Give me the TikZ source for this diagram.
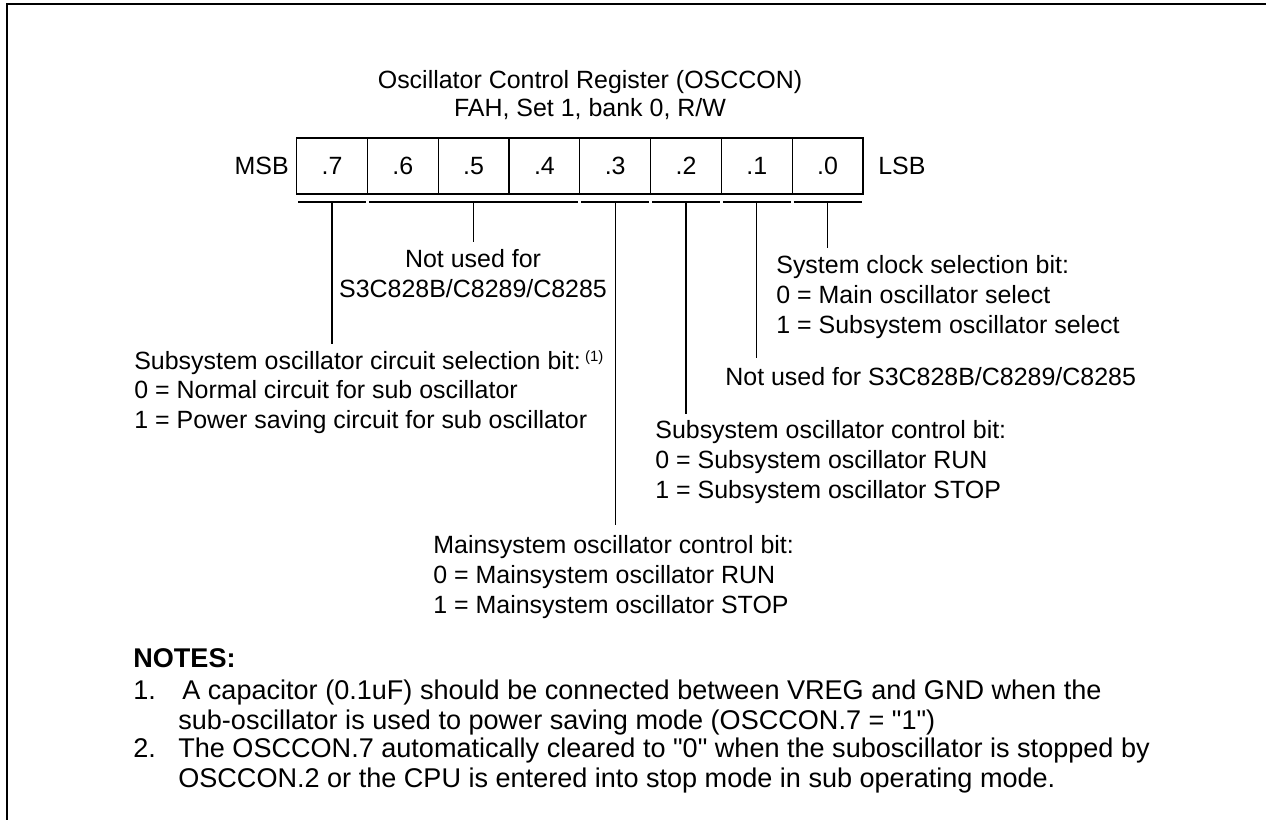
\documentclass[tikz,border=0pt]{standalone}
\usepackage{fontspec}
\setmainfont{Liberation Sans}
\usetikzlibrary{positioning,calc}

\newcommand{\descsize}{\fontsize{14.2}{17}\selectfont}
\newcommand{\notesize}{\fontsize{15.4}{17}\selectfont}

\begin{document}
\begin{tikzpicture}[
  bitcell/.style={draw, line width=0.6pt, minimum width=1.416cm, minimum height=1.12cm, inner sep=0pt, outer sep=0pt, font=\descsize},
  desc/.style={font=\descsize, align=left, anchor=north west, inner sep=0pt},
  notetext/.style={font=\notesize, align=left, anchor=north west, inner sep=0pt},
  lead/.style={line width=0.75pt}
]
  \useasboundingbox (0,0) rectangle (25.32,16.4);
  \draw[line width=1.3pt] (0.14,0) -- (0.14,16.32) -- (25.32,16.32);

  % register title
  \node[font=\fontsize{14.2}{16}\selectfont, align=center, anchor=north, inner sep=0pt] (title) at (11.8,15.0) {Oscillator Control Register (OSCCON)\\FAH, Set 1, bank 0, R/W};

  % register bits
  \node[bitcell] (b7) at (6.64,13.08) {.7};
  \node[bitcell, right=0pt of b7] (b6) {.6};
  \node[bitcell, right=0pt of b6] (b5) {.5};
  \node[bitcell, right=0pt of b5] (b4) {.4};
  \node[bitcell, right=0pt of b4] (b3) {.3};
  \node[bitcell, right=0pt of b3] (b2) {.2};
  \node[bitcell, right=0pt of b2] (b1) {.1};
  \node[bitcell, right=0pt of b1] (b0) {.0};
  \node[font=\descsize, inner sep=0pt, left=0.15cm of b7] (msb) {MSB};
  \node[font=\descsize, inner sep=0pt, right=0.3cm of b0] (lsb) {LSB};

  % bit groups
  \coordinate (ul) at (0,12.36);
  \draw[line width=0.6pt] ($(b7.west |- ul)+(0.03,0)$) -- ($(b7.east |- ul)+(-0.03,0)$);
  \draw[line width=0.6pt] ($(b6.west |- ul)+(0.03,0)$) -- ($(b4.east |- ul)+(-0.03,0)$);
  \draw[line width=0.6pt] ($(b3.west |- ul)+(0.03,0)$) -- ($(b3.east |- ul)+(-0.03,0)$);
  \draw[line width=0.6pt] ($(b2.west |- ul)+(0.03,0)$) -- ($(b2.east |- ul)+(-0.03,0)$);
  \draw[line width=0.6pt] ($(b1.west |- ul)+(0.03,0)$) -- ($(b1.east |- ul)+(-0.03,0)$);
  \draw[line width=0.6pt] ($(b0.west |- ul)+(0.03,0)$) -- ($(b0.east |- ul)+(-0.03,0)$);

  % bit descriptions
  \node[desc] (d7) at (2.68,9.4) {Subsystem oscillator circuit selection bit:\,\raisebox{0.6ex}{\fontsize{8.5}{8.5}\selectfont(1)}\\0 = Normal circuit for sub oscillator\\1 = Power saving circuit for sub oscillator};
  \node[desc, anchor=north, align=center] (d5) at (9.46,11.42) {Not used for\\S3C828B/C8289/C8285};
  \node[desc] (d0) at (15.52,11.3) {System clock selection bit:\\0 = Main oscillator select\\1 = Subsystem oscillator select};
  \node[desc] (d1) at (14.5,9.06) {Not used for S3C828B/C8289/C8285};
  \node[desc] (d2) at (13.1,8.0) {Subsystem oscillator control bit:\\0 = Subsystem oscillator RUN\\1 = Subsystem oscillator STOP};
  \node[desc] (d3) at (8.66,5.7) {Mainsystem oscillator control bit:\\0 = Mainsystem oscillator RUN\\1 = Mainsystem oscillator STOP};

  \draw[lead] (b7 |- ul) -- ($(b7 |- d7.north)+(0,0.12)$);
  \draw[lead] (b5 |- ul) -- ($(b5 |- d5.north)+(0,0.14)$);
  \draw[lead] (b3 |- ul) -- ($(b3 |- d3.north)+(0,0.2)$);
  \draw[lead] (b2 |- ul) -- ($(b2 |- d2.north)+(0,0.12)$);
  \draw[lead] (b1 |- ul) -- ($(b1 |- d1.north)+(0,0.18)$);
  \draw[lead] (b0 |- ul) -- ($(b0 |- d0.north)+(0,0.14)$);

  % notes
  \node[font=\notesize\bfseries, anchor=base west, inner sep=0pt] (notes) at (2.66,3.04) {NOTES:};
  \node[notetext] (n1) at (2.66,2.84) {\strut 1.};
  \node[notetext] (t1) at (3.56,2.84) {\strut\hspace{0.15em}A capacitor (0.1uF) should be connected between VREG and GND when the\\sub-oscillator is used to power saving mode (OSCCON.7 = \textquotedbl 1\textquotedbl)};
  \node[notetext] (n2) at (2.66,1.68) {\strut 2.};
  \node[notetext] (t2) at (3.56,1.68) {\strut The OSCCON.7 automatically cleared to \textquotedbl 0\textquotedbl{} when the suboscillator is stopped by\\OSCCON.2 or the CPU is entered into stop mode in sub operating mode.};
\end{tikzpicture}
\end{document}
